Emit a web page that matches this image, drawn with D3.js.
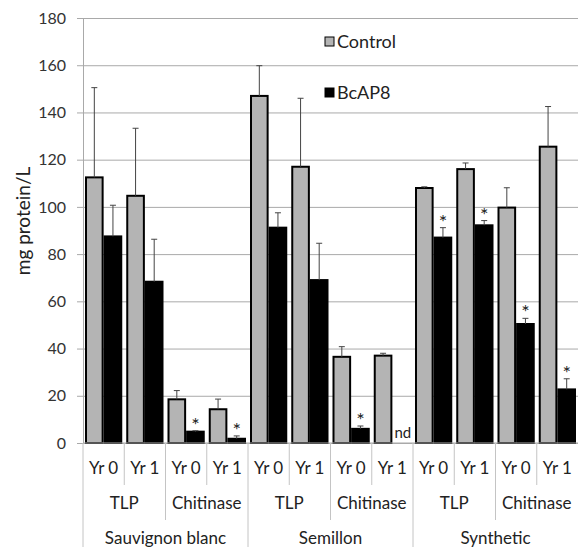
<!DOCTYPE html>
<html>
<head>
<meta charset="utf-8">
<script src="https://cdn.jsdelivr.net/npm/d3@7"></script>
<style>
  body { margin: 0; background: #fff; }
  text { font-family: Lato, "Open Sans", sans-serif; fill: #222; }
</style>
</head>
<body>
<div id="chart"></div>
<script>
// bar chart: protein per wine / protein / year

const varieties = ["Sauvignon blanc", "Semillon", "Synthetic"];
const proteins = ["TLP", "Chitinase"];
const years = ["Yr 0", "Yr 1"];
const series = ["Control", "BcAP8"];

const controlMean = [112.5, 104.7, 18.5, 14.3, 147, 117, 36.5, 37, 108, 116, 99.7, 125.5];
const controlErr  = [38, 28.6, 3.7, 4.3, 12.8, 29, 4.3, 1, 0.5, 2.6, 8.4, 17];
const bcapMean    = [87.5, 68.3, 4.8, 1.8, 91.2, 69, 6, null, 87, 92.2, 50.4, 22.7];
const bcapErr     = [13.2, 18, 0.4, 1.2, 6.3, 15.6, 1.2, null, 4.2, 2, 2.4, 4.5];
const significant = [false, false, true, true, false, false, true, false, true, true, true, true];
const yTicks = [0, 20, 40, 60, 80, 100, 120, 140, 160, 180];

let width = 578,
    height = 547,
    margin = ({ top: 18, right: 0, bottom: 104, left: 83 });

// flatten to 12 cells
let cells = [];
varieties.forEach((v, vi) => {
  proteins.forEach((p, pi) => {
    years.forEach((yr, yi) => {
      let i = cells.length;
      cells.push({
        key: i, variety: v, protein: p, year: yr,
        values: [
          { s: "Control", v: controlMean[i], e: controlErr[i] },
          { s: "BcAP8", v: bcapMean[i], e: bcapErr[i], sig: significant[i] }
        ]
      });
    });
  });
});

const svg = d3.select("#chart")
  .append("svg")
  .attr("width", width)
  .attr("height", height);

let x = d3.scaleBand()
  .domain(cells.map(d => d.key))
  .range([margin.left, width - margin.right]);

let xs = d3.scaleBand()
  .domain(series)
  .range([2, x.bandwidth() - 2]);

let y = d3.scaleLinear()
  .domain([0, 180])
  .range([height - margin.bottom, margin.top]);

let color = d3.scaleOrdinal().domain(series).range(["#b4b4b4", "#000"]);

// gridlines + y axis
svg.append("g")
  .attr("transform", `translate(${margin.left},0)`)
  .call(d3.axisLeft(y).tickValues(yTicks).tickSize(6).tickSizeOuter(0))
  .call(g => g.selectAll(".tick line").clone()
      .attr("x1", 0)
      .attr("x2", width - margin.left - margin.right)
      .attr("stroke", "#a9a9a9"))
  .call(g => g.selectAll(".tick line").attr("stroke", "#a9a9a9"))
  .call(g => g.select(".domain").attr("stroke", "#a9a9a9"))
  .call(g => g.selectAll("text")
      .attr("x", -17)
      .style("font-size", "16px")
      .style("fill", "#333"));

svg.append("text")
  .attr("transform", "rotate(-90)")
  .attr("x", -221)
  .attr("y", 30)
  .attr("text-anchor", "middle")
  .style("font-size", "19px")
  .text("mg protein/L");

// bars
let grp = svg.append("g").selectAll("g")
  .data(cells)
  .join("g")
  .attr("transform", d => `translate(${x(d.key)},0)`);

grp.selectAll("rect")
  .data(d => d.values.filter(b => b.v != null))
  .join("rect")
  .attr("x", b => xs(b.s) + 1)
  .attr("width", xs.bandwidth() - 2)
  .attr("y", b => y(b.v))
  .attr("height", b => y(0) - y(b.v))
  .attr("fill", b => color(b.s))
  .attr("stroke", "#000")
  .attr("stroke-width", 2);

// error bars (upper only)
let err = grp.selectAll("g.err")
  .data(d => d.values.filter(b => b.v != null))
  .join("g")
  .attr("class", "err")
  .attr("stroke", "#444")
  .attr("stroke-width", 1);

err.append("line")
  .attr("x1", b => xs(b.s) + xs.bandwidth() / 2)
  .attr("x2", b => xs(b.s) + xs.bandwidth() / 2)
  .attr("y1", b => y(b.v))
  .attr("y2", b => y(b.v + b.e));

err.append("line")
  .attr("x1", b => xs(b.s) + xs.bandwidth() / 2 - 3)
  .attr("x2", b => xs(b.s) + xs.bandwidth() / 2 + 3)
  .attr("y1", b => y(b.v + b.e))
  .attr("y2", b => y(b.v + b.e));

// significance stars
grp.selectAll("text.sig")
  .data(d => d.values.filter(b => b.sig))
  .join("text")
  .attr("class", "sig")
  .attr("x", b => xs(b.s) + xs.bandwidth() / 2)
  .attr("y", b => y(b.v + b.e) + 1)
  .attr("text-anchor", "middle")
  .style("font-size", "20px")
  .text("*");

// not detected
grp.filter(d => d.values[1].v == null)
  .append("text")
  .attr("x", xs("BcAP8") + 2)
  .attr("y", y(0) - 5)
  .style("font-size", "15px")
  .text("nd");

// x axis line
svg.append("line")
  .attr("x1", margin.left).attr("x2", width)
  .attr("y1", y(0)).attr("y2", y(0))
  .attr("stroke", "#a9a9a9");

// multi-level category labels
let base = y(0);
let axis = svg.append("g").attr("stroke", "#c4c4c4");
cells.forEach((d, i) => {
  let x0 = x(d.key);
  let len = i % 4 === 0 ? height - base : (i % 2 === 0 ? 77 : 42);
  axis.append("line")
    .attr("x1", x0).attr("x2", x0)
    .attr("y1", base).attr("y2", base + len);
});

svg.append("g").selectAll("text")
  .data(cells)
  .join("text")
  .attr("x", d => x(d.key) + x.bandwidth() / 2)
  .attr("y", base + 31)
  .attr("text-anchor", "middle")
  .style("font-size", "17px")
  .text(d => d.year);

let protCells = cells.filter((d, i) => i % 2 === 0);
svg.append("g").selectAll("text")
  .data(protCells)
  .join("text")
  .attr("x", d => x(d.key) + x.bandwidth())
  .attr("y", base + 66)
  .attr("text-anchor", "middle")
  .style("font-size", "17px")
  .text(d => d.protein);

let varCells = cells.filter((d, i) => i % 4 === 0);
svg.append("g").selectAll("text")
  .data(varCells)
  .join("text")
  .attr("x", d => x(d.key) + x.bandwidth() * 2)
  .attr("y", base + 101)
  .attr("text-anchor", "middle")
  .style("font-size", "17px")
  .text(d => d.variety);

// legend
let legend = svg.append("g").selectAll("g")
  .data(series)
  .join("g")
  .attr("transform", (d, i) => `translate(325,${37 + i * 51})`);

legend.append("rect")
  .attr("width", 9).attr("height", 9)
  .attr("fill", d => color(d))
  .attr("stroke", "#000")
  .attr("stroke-width", 1);

legend.append("text")
  .attr("x", 12)
  .attr("y", 11)
  .style("font-size", "18px")
  .text(d => d);
</script>
</body>
</html>
